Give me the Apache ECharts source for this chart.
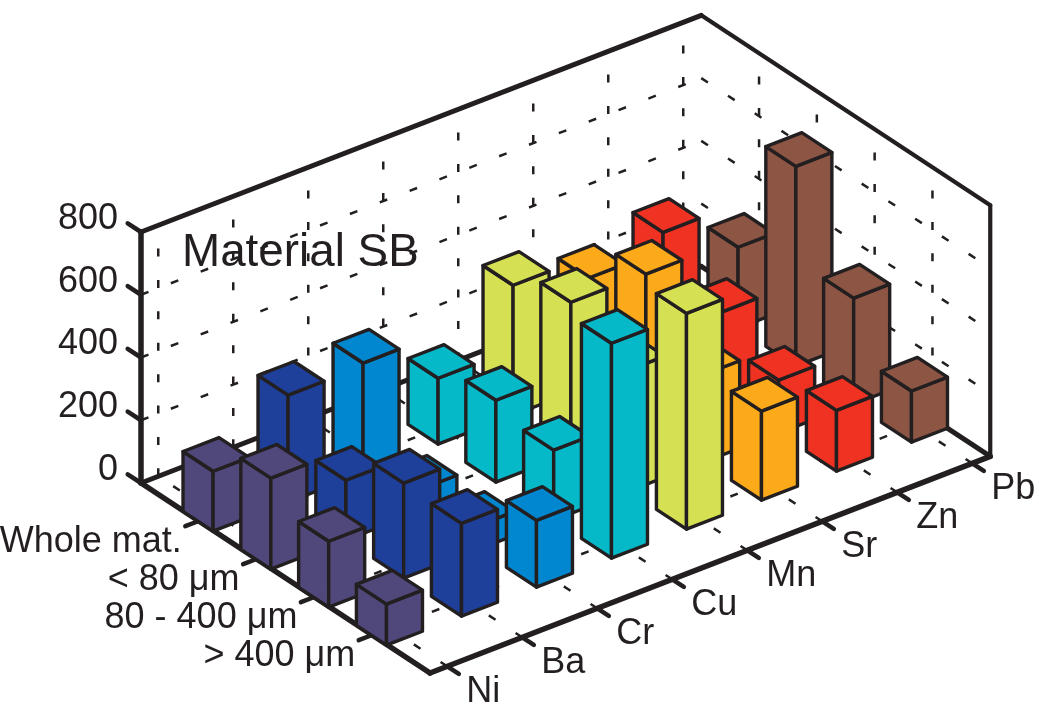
<!DOCTYPE html>
<html>
<head>
<meta charset="utf-8">
<style>html,body{margin:0;padding:0;background:#fff}#c{width:1039px;height:706px}</style>
<script src="https://cdn.jsdelivr.net/npm/echarts@6/dist/echarts.min.js"></script>
</head>
<body>
<div id="c"></div>
<script>
// Data
const elements = ['Ni', 'Ba', 'Cr', 'Cu', 'Mn', 'Sr', 'Zn', 'Pb'];
const fractions = ['Whole mat.', '< 80 μm', '80 - 400 μm', '> 400 μm'];
const heightTicks = [0, 200, 400, 600, 800];
const colors = ['#50487a', '#1e409a', '#0087cf', '#05b9c9', '#d5e153', '#fcaa1a', '#f03223', '#8c5544'];
const ni = [191, 290, 210, 131];
const ba = [341, 191, 303, 296];
const cr = [351, 70, 76, 213];
const cu = [210, 261, 223, 685];
const mn = [414, 481, 386, 688];
const sr = [344, 478, 279, 284];
const zn = [398, 264, 169, 194];
const pb = [258, 637, 338, 163];
const valuesByElement = [ni, ba, cr, cu, mn, sr, zn, pb];

const INK = '#231f20';
const eMin = -0.23, eMax = 7.24, gMin = -1, gMax = 4, zMax = 800;
function project(e, g, z) {
  const de = e - eMin, dg = g - gMin;
  return [141 + de * 75 + dg * 57.8, 483 - de * 29 + dg * 38 - z * 251 / zMax];
}
const bars = [];
valuesByElement.forEach((vals, e) => vals.forEach((v, g) => bars.push([e, g, v])));
bars.sort((a, b) => (a[1] - a[0]) - (b[1] - b[0]));

function renderFrame(params, api) {
  const P = (e, g, z) => api.coord(project(e, g, z));
  const kids = [];
  const line = (a, b, w, dash) => {
    kids.push({ type: 'line', shape: { x1: a[0], y1: a[1], x2: b[0], y2: b[1] }, silent: true,
      style: { stroke: INK, lineWidth: w, lineDash: dash || null, lineCap: dash ? 'butt' : 'round', fill: null } });
  };
  const text = (s, p, dx, dy, align, size) => {
    kids.push({ type: 'text', x: p[0] + dx, y: p[1] + dy, silent: true,
      style: { text: s, fill: INK, align: align, verticalAlign: 'middle',
        fontFamily: '"Liberation Sans", Arial, sans-serif', fontSize: size } });
  };
  const vDash = [8, 23.4], sDash = [8, 24];
  // dashed grid
  elements.forEach((n, e) => {
    line(P(e, gMin, 0), P(e, gMin, zMax), 2.5, vDash);
    line(P(e, gMax, 0), P(e, gMin, 0), 2.5, sDash);
  });
  fractions.forEach((n, g) => {
    line(P(eMax, g, 0), P(eMax, g, zMax), 2.5, vDash);
    line(P(eMin, g, 0), P(eMax, g, 0), 2.5, sDash);
  });
  heightTicks.slice(1, -1).forEach(z => {
    line(P(eMin, gMin, z), P(eMax, gMin, z), 2.5, sDash);
    line(P(eMax, gMin, z), P(eMax, gMax, z), 2.5, sDash);
  });
  // box
  line(P(eMin, gMin, 0), P(eMin, gMax, 0), 5.5);
  line(P(eMin, gMax, 0), P(eMax, gMax, 0), 5.5);
  line(P(eMin, gMin, 0), P(eMax, gMin, 0), 5);
  line(P(eMax, gMin, 0), P(eMax, gMax, 0), 5);
  line(P(eMin, gMin, 0), P(eMin, gMin, zMax), 5.5);
  line(P(eMin, gMin, zMax), P(eMax, gMin, zMax), 5);
  line(P(eMax, gMin, zMax), P(eMax, gMax, zMax), 4.2);
  line(P(eMax, gMax, 0), P(eMax, gMax, zMax), 4.2);
  // ticks and labels
  heightTicks.forEach(z => {
    line(P(eMin, gMin, z), P(eMin, gMin - 0.23, z), 4.5);
    text(String(z), P(eMin, gMin, z), -23, -13, 'right', 36);
  });
  elements.forEach((n, e) => {
    line(P(e, gMax, 0), P(e, gMax + 0.2, 0), 4.5);
    text(n, P(e, gMax, 0), 19, 26, 'left', 36);
  });
  fractions.forEach((n, g) => {
    line(P(eMin, g, 0), P(eMin - 0.18, g, 0), 4.5);
    text(n, P(eMin, g, 0), -17, 21, 'right', 36);
  });
  text('Material SB', project(eMin, gMin, 800), 41, 21, 'left', 45.8);
  return { type: 'group', children: kids };
}

function renderBar(params, api) {
  const e = api.value(0), g = api.value(1), z = api.value(2);
  const he = 0.24, hg = 0.26;
  const top = (de, dg) => api.coord(project(e + de, g + dg, z));
  const low = (de, dg) => api.coord(project(e + de, g + dg, 0));
  const style = { fill: colors[e], stroke: INK, lineWidth: 3.4, lineJoin: 'round' };
  const face = pts => ({ type: 'polygon', shape: { points: pts }, style: style, silent: true });
  return { type: 'group', children: [
    face([low(-he, -hg), low(-he, hg), top(-he, hg), top(-he, -hg)]),
    face([low(-he, hg), low(he, hg), top(he, hg), top(-he, hg)]),
    face([top(-he, hg), top(he, hg), top(he, -hg), top(-he, -hg)])
  ] };
}

const chart = echarts.init(document.getElementById('c'), null, { renderer: 'canvas' });
chart.setOption({
  animation: false,
  backgroundColor: '#ffffff',
  grid: { left: 0, right: 0, top: 0, bottom: 0 },
  xAxis: { type: 'value', min: 0, max: 1039, show: false },
  yAxis: { type: 'value', min: 0, max: 706, inverse: true, show: false },
  series: [
    { type: 'custom', coordinateSystem: 'cartesian2d', clip: false, data: [[0, 0]], renderItem: renderFrame, z: 1 },
    { type: 'custom', coordinateSystem: 'cartesian2d', clip: false, data: bars, encode: { x: 0, y: 1 }, renderItem: renderBar, z: 2 }
  ]
});
</script>
</body>
</html>
